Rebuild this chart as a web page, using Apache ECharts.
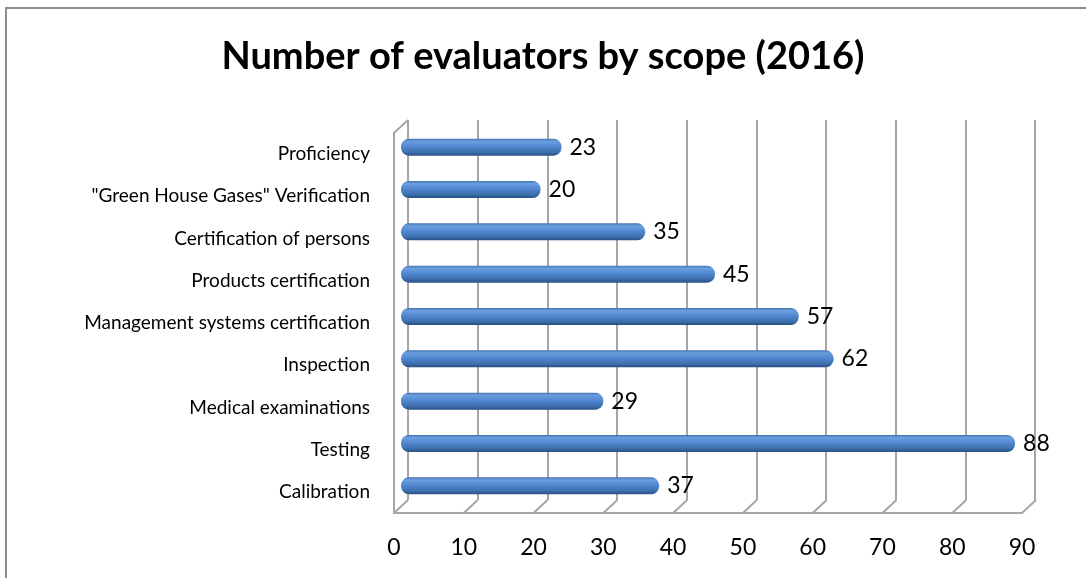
<!DOCTYPE html>
<html lang="en">
<head>
  <meta charset="UTF-8">
  <title>Number of evaluators by scope (2016)</title>
  <script src="https://cdn.jsdelivr.net/npm/echarts@6/dist/echarts.min.js"></script>
  <style type="text/css">
    html, body { margin: 0; padding: 0; background: #fff; }
    #main { position: relative; width: 1086px; height: 578px; }
    .frame {
      position: absolute; left: 5px; top: 7px; right: 0; bottom: 0;
      border-left: 2px solid #8c8c8c; border-top: 2px solid #8c8c8c;
    }
  </style>
</head>
<body>
  <div id="main"><div class="frame"></div><div id="chart" style="position:absolute;left:0;top:0;width:1086px;height:578px;"></div></div>

  <script type="text/javascript">
    // bottom to top, like the picture
    var categories = ['Calibration', 'Testing', 'Medical examinations', 'Inspection',
      'Management systems certification', 'Products certification',
      'Certification of persons', '"Green House Gases" Verification', 'Proficiency'];
    var evaluators = [37, 88, 29, 62, 57, 45, 35, 20, 23];
    var ticks = [0, 10, 20, 30, 40, 50, 60, 70, 80, 90];

    var font = 'Lato';
    var gridColor = '#a6a6a6';
    var depthX = 14, depthY = 13;

    var myChart = echarts.init(document.getElementById('chart'));

    var option = {
      animation: false,
      title: {
        text: 'Number of evaluators by scope (2016)',
        left: 'center',
        top: 33,
        textStyle: { fontFamily: font, fontSize: 38, fontWeight: 'bold', color: '#000' }
      },
      grid: [
        // back wall
        { left: 408, right: 51, top: 120, bottom: 78 },
        // front edge, holds the labels
        { left: 394, right: 64, top: 133, bottom: 65 },
        // bars sit half way in depth
        { left: 401, right: 57, top: 126, bottom: 71 }
      ],
      xAxis: [
        {
          gridIndex: 0, type: 'value', min: 0, max: 90, interval: 10,
          axisLine: { show: false }, axisTick: { show: false }, axisLabel: { show: false },
          splitLine: { show: true, lineStyle: { color: gridColor, width: 2 } }
        },
        {
          gridIndex: 1, type: 'value', min: 0, max: 90, interval: 10,
          axisLine: { show: true, lineStyle: { color: gridColor, width: 2 } },
          axisTick: { show: false },
          axisLabel: { fontFamily: font, fontSize: 23, color: '#000', margin: 23 },
          splitLine: { show: false }
        },
        {
          gridIndex: 2, type: 'value', min: 0, max: 90, interval: 10, show: false
        }
      ],
      yAxis: [
        { gridIndex: 0, type: 'category', data: categories, show: false },
        {
          gridIndex: 1, type: 'category', data: categories,
          axisLine: { show: true, lineStyle: { color: gridColor, width: 2 } },
          axisTick: { show: false },
          axisLabel: { fontFamily: font, fontSize: 19, color: '#000', margin: 24 }
        },
        { gridIndex: 2, type: 'category', data: categories, show: false }
      ],
      series: [
        {
          // floor diagonals from the front axis to the back wall
          type: 'custom',
          xAxisIndex: 1, yAxisIndex: 1,
          silent: true,
          data: ticks.map(function (v) { return [v, 0]; }),
          renderItem: function (params, api) {
            var cs = params.coordSys;
            var x = api.coord([api.value(0), 0])[0];
            var yb = cs.y + cs.height;
            var children = [{
              type: 'line',
              shape: { x1: x, y1: yb, x2: x + depthX, y2: yb - depthY },
              style: { stroke: gridColor, lineWidth: 2 }
            }];
            if (api.value(0) === 0) {
              children.push({
                type: 'line',
                shape: { x1: cs.x, y1: cs.y, x2: cs.x + depthX, y2: cs.y - depthY },
                style: { stroke: gridColor, lineWidth: 2 }
              });
            }
            return { type: 'group', children: children };
          }
        },
        {
          name: 'Evaluators',
          type: 'bar',
          xAxisIndex: 2, yAxisIndex: 2,
          data: evaluators,
          barWidth: 17,
          itemStyle: {
            borderRadius: 8,
            color: new echarts.graphic.LinearGradient(0, 0, 0, 1, [
              { offset: 0, color: '#4272b0' },
              { offset: 0.15, color: '#6c9edf' },
              { offset: 0.45, color: '#5289d2' },
              { offset: 0.8, color: '#3d6eac' },
              { offset: 1, color: '#284f84' }
            ])
          },
          label: {
            show: true, position: 'right', distance: 8,
            fontFamily: font, fontSize: 23, color: '#000'
          }
        }
      ]
    };

    myChart.setOption(option);
  </script>
</body>
</html>
